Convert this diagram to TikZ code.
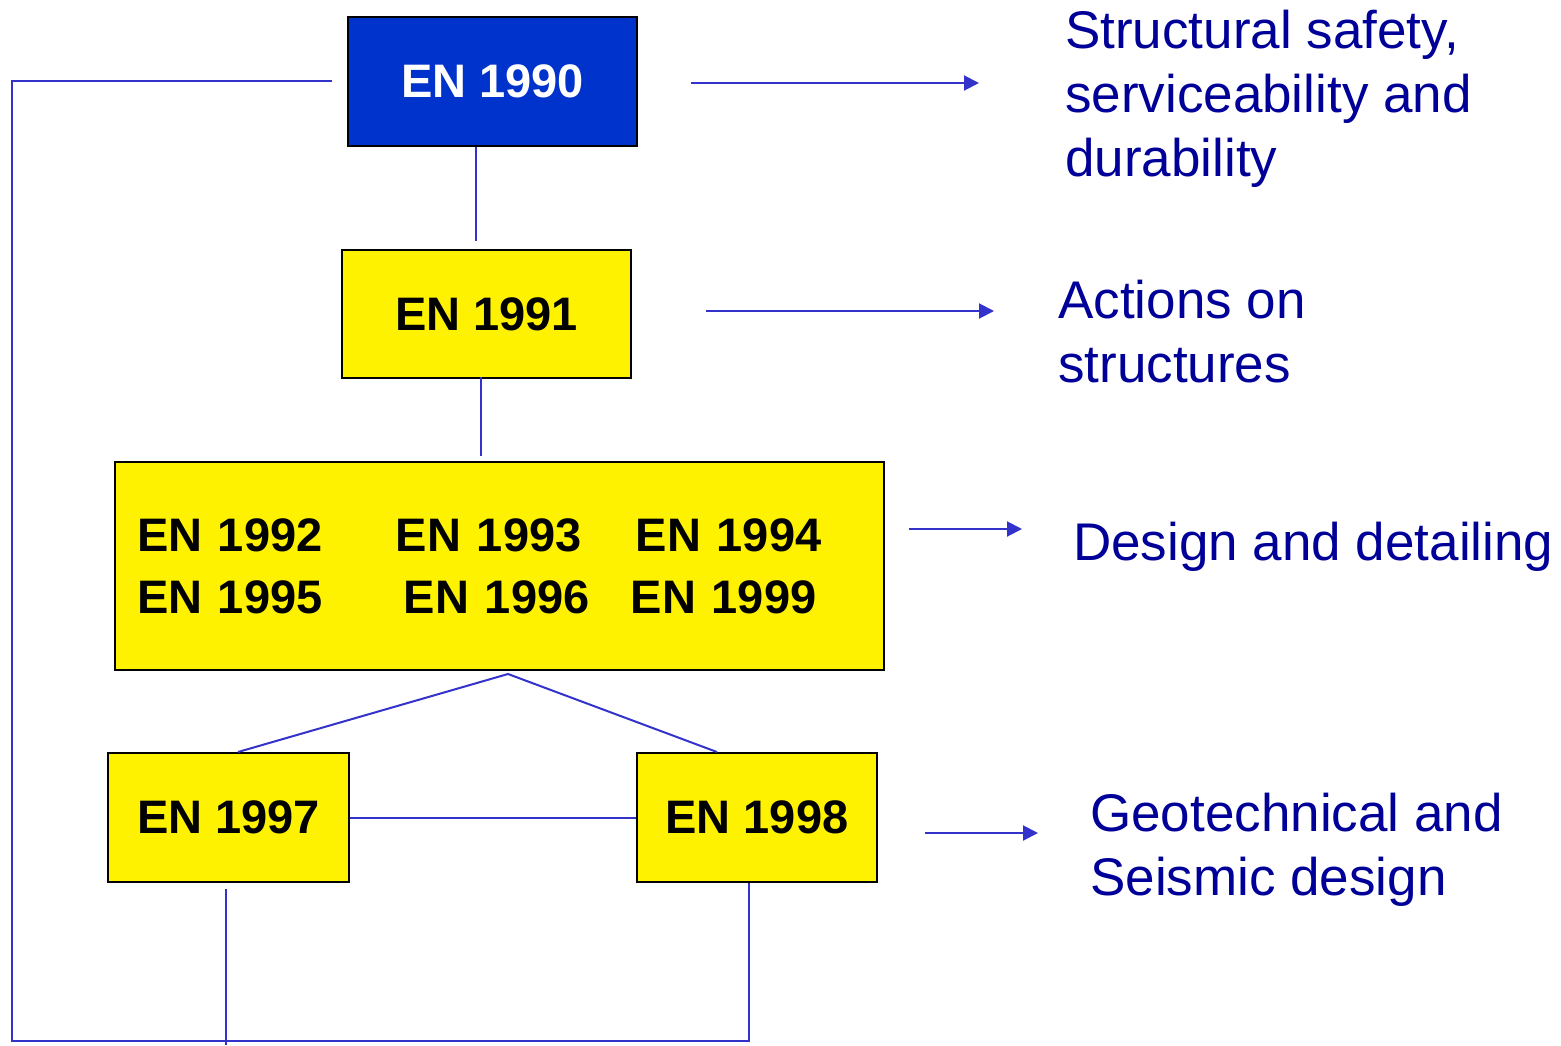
\documentclass[tikz,border=0pt]{standalone}
\usepackage{fontspec}
\setmainfont{Liberation Sans}
\usetikzlibrary{arrows.meta,calc}
\definecolor{boxblue}{RGB}{0,51,204}
\definecolor{linkblue}{RGB}{51,51,204}
\definecolor{textblue}{RGB}{0,0,153}
\begin{document}
\begin{tikzpicture}[x=1pt,y=-1pt,
  stdbox/.style={draw=black,line width=2pt,fill=yellow,inner sep=0pt,
    font=\fontsize{47}{62}\selectfont\bfseries},
  link/.style={draw=linkblue,line width=2pt},
  arr/.style={link,-{Triangle[length=15pt,width=15pt]}},
  desc/.style={text=textblue,font=\fontsize{53}{64}\selectfont,align=left,
    inner sep=0pt,anchor=base west}]
\useasboundingbox (0,0) rectangle (1561,1045);
% boxes
\node[stdbox,fill=boxblue,text=white,minimum width=289pt,minimum height=129pt] (n1990) at (492.5,81.5) {EN 1990};
\node[stdbox,minimum width=289pt,minimum height=128pt] (n1991) at (486.5,314) {EN 1991};
\node[stdbox,minimum height=208pt,text width=725pt,align=left,inner xsep=22pt] (n1992) at (499.5,566)
  {\makebox[259pt][l]{EN 1992}\makebox[240pt][l]{EN 1993}EN 1994\\
   \makebox[267pt][l]{EN 1995}\makebox[227pt][l]{EN 1996}EN 1999};
\node[stdbox,minimum width=241pt,minimum height=129pt] (n1997) at (228.5,817.5) {EN 1997};
\node[stdbox,minimum width=240pt,minimum height=129pt] (n1998) at (757,817.5) {EN 1998};
% connectors
\draw[link] ($(n1990.south)+(-16.5,0)$) -- ($(n1991.north)+(-10.5,-8)$);
\draw[link] ($(n1991.south)+(-5.5,-2)$) -- ($(n1992.north)+(-18.5,-5)$);
\coordinate (apex) at ($(n1992.south)+(8.5,3)$);
\draw[link] ($(n1997.north)+(9.5,0)$) -- (apex) -- ($(n1998.north)+(-40,0)$);
\draw[link] (n1997.east) -- (n1998.west);
\coordinate (loopcorner) at (12,1041);
\draw[link] ($(n1990.west)+(-15,-0.5)$) -| (loopcorner) -| ($(n1998.south)+(-8,0)$);
\coordinate (bottomend) at (226,1045);
\draw[link] ($(n1997.south)+(-2.5,6)$) -- (bottomend);
% arrows
\draw[arr] ($(n1990.east)+(53,1.5)$) -- ++(288,0);
\draw[arr] ($(n1991.east)+(74,-3)$) -- ++(288,0);
\draw[arr] ($(n1992.east)+(24,-37)$) -- ++(113,0);
\draw[arr] ($(n1998.east)+(47,15.5)$) -- ++(113,0);
% descriptions (base anchor = baseline of last line)
\node[desc] (d1) at (1065,176) {Structural safety,\\serviceability and\\durability};
\node[desc] (d2) at (1058,382) {Actions on\\structures};
\node[desc] (d3) at (1073,560) {Design and detailing};
\node[desc] (d4) at (1090,895) {Geotechnical and\\Seismic design};
\end{tikzpicture}
\end{document}
